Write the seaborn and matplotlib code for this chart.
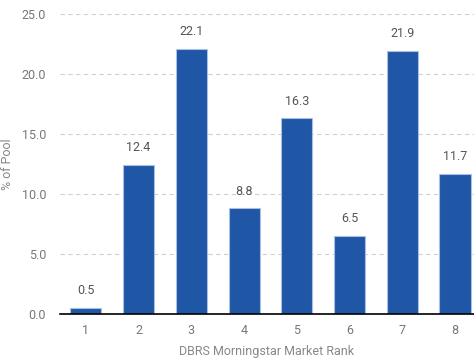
import matplotlib
matplotlib.use("Agg")
import matplotlib.pyplot as plt
import seaborn as sns
import pandas as pd

ranks = ["1", "2", "3", "4", "5", "6", "7", "8"]
values = [0.5, 12.4, 22.1, 8.8, 16.3, 6.5, 21.9, 11.7]
yticks = [0.0, 5.0, 10.0, 15.0, 20.0, 25.0]

sns.set_style("white")
plt.rcParams['font.family'] = ['Roboto', 'DejaVu Sans']

df = pd.DataFrame({"rank": ranks, "value": values})
fig = plt.figure(figsize=(4.74, 3.6), dpi=100)
ax = fig.add_axes([60/474, 46/360, 414/474, 300/360])
sns.barplot(data=df, x="rank", y="value", color="#1f56a6", saturation=1,
            width=0.59, edgecolor="#a9c0e0", linewidth=0.8, ax=ax, zorder=3)
for i, v in enumerate(values):
    ax.text(i, v + 0.9, f"{v:.1f}", ha="center", va="bottom", fontsize=9, color="#555555")
ax.set_ylim(0, 25)
ax.set_xlim(-0.49, 7.36)
ax.set_yticks(yticks)
ax.set_yticklabels([f"{t:.1f}" for t in yticks])
ax.yaxis.grid(True, linestyle=(0, (4, 3)), color="#d0d0d0", linewidth=0.8, zorder=0)
for s in ["top", "right", "left"]:
    ax.spines[s].set_visible(False)
ax.spines["bottom"].set_color("black")
ax.spines["bottom"].set_linewidth(1.2)
ax.spines["bottom"].set_zorder(5)
ax.tick_params(axis="both", length=0, labelsize=9, labelcolor="#777777")
ax.tick_params(axis="y", pad=10)
ax.tick_params(axis="x", pad=7)
ax.set_xlabel("DBRS Morningstar Market Rank", fontsize=9, color="#888888")
ax.set_ylabel("% of Pool", fontsize=9, color="#888888")
ax.xaxis.set_label_coords(0.5, -0.105)
ax.yaxis.set_label_coords(-0.11, 0.5)
fig.savefig("out.png", dpi=100)
